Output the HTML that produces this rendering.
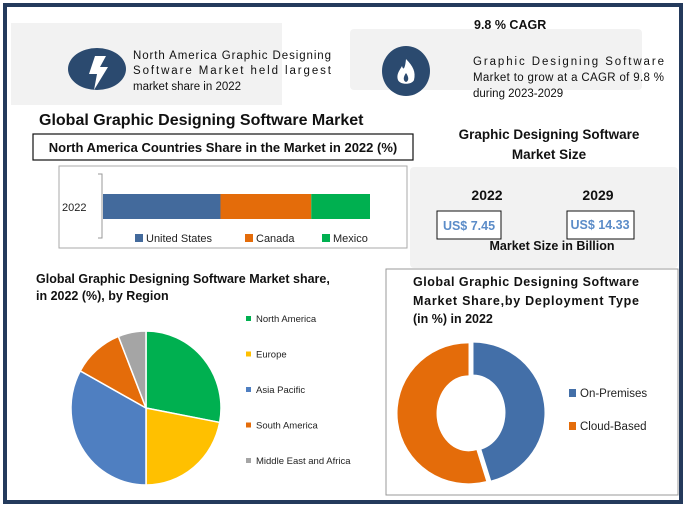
<!DOCTYPE html>
<html><head><meta charset="utf-8"><style>
body{margin:0;background:#fff;}
svg{display:block;font-family:"Liberation Sans",sans-serif;}
</style></head><body>
<svg width="686" height="507" viewBox="0 0 686 507">
<rect x="5" y="5" width="676" height="497" fill="#fff" stroke="#243a5c" stroke-width="4"/>

<!-- Top-left card -->
<rect x="11" y="23" width="271" height="82" fill="#f2f2f2"/>
<ellipse cx="97" cy="69" rx="29" ry="21" fill="#2b4a6f"/>
<path d="M95 56 L106 56 L100 67 L108 67 L94 90 L97 74 L89 74 Z" fill="#fff"/>
<g font-size="11.5" fill="#111">
<text x="133" y="59" textLength="198" lengthAdjust="spacing">North America Graphic Designing</text>
<text x="133" y="74" textLength="198" lengthAdjust="spacing">Software Market held largest</text>
<text x="133" y="90">market share in 2022</text>
</g>

<!-- Top-right card -->
<rect x="350" y="29" width="292" height="61" rx="4" fill="#f2f2f2"/>
<ellipse cx="406" cy="71" rx="24" ry="25" fill="#2b4a6f"/>
<path d="M406 59 C413 66 416 72 414 80 C412 85 400 85 398 80 C396 74 400 70 402 66 C403 70 405 70 406 59 Z" fill="#fff"/>
<path d="M406 73 C409 77 409 81 406 82 C403 81 403 77 406 73 Z" fill="#2b4a6f"/>
<text x="474" y="29" font-size="12.5" font-weight="bold" fill="#111">9.8 % CAGR</text>
<g font-size="11.5" fill="#111">
<text x="473" y="65" textLength="191" lengthAdjust="spacing">Graphic Designing Software</text>
<text x="473" y="81" textLength="191" lengthAdjust="spacing">Market to grow at a CAGR of 9.8 %</text>
<text x="473" y="97">during 2023-2029</text>
</g>

<text x="39" y="125" font-size="16" font-weight="bold" fill="#111">Global Graphic Designing Software Market</text>

<!-- Bar chart -->
<rect x="33" y="134" width="380" height="26" fill="#fff" stroke="#111" stroke-width="1.2"/>
<text x="223" y="152" font-size="13" font-weight="bold" fill="#111" text-anchor="middle">North America Countries Share in the Market in 2022 (%)</text>
<rect x="59" y="166" width="348" height="82" fill="#fff" stroke="#aaa"/>
<path d="M98 174 L102 174 L102 238 L98 238" fill="none" stroke="#999"/>
<text x="62" y="211" font-size="11" fill="#222">2022</text>
<g id="bars"></g>
<g id="barlegend"></g>

<!-- Market size -->
<text x="549" y="139" font-size="13.5" font-weight="bold" fill="#111" text-anchor="middle">Graphic Designing Software</text>
<text x="549" y="159" font-size="13.5" font-weight="bold" fill="#111" text-anchor="middle">Market Size</text>
<rect x="410" y="167" width="268" height="101" rx="4" fill="#f2f2f2"/>
<text x="487" y="200" font-size="14" font-weight="bold" fill="#111" text-anchor="middle">2022</text>
<text x="598" y="200" font-size="14" font-weight="bold" fill="#111" text-anchor="middle">2029</text>
<rect x="437" y="211" width="64" height="28" fill="#fff" stroke="#111"/>
<rect x="567" y="211" width="67" height="28" fill="#fff" stroke="#111"/>
<text x="469" y="230" font-size="12.5" font-weight="bold" fill="#5b8cc8" text-anchor="middle">US$ 7.45</text>
<text x="600" y="229" font-size="12.5" font-weight="bold" fill="#5b8cc8" text-anchor="middle">US$ 14.33</text>
<text x="552" y="250" font-size="12.5" font-weight="bold" fill="#111" text-anchor="middle">Market Size in Billion</text>

<!-- Pie -->
<text x="36" y="283" font-size="12.5" font-weight="bold" fill="#111">Global Graphic Designing Software Market share,</text>
<text x="36" y="300" font-size="12.5" font-weight="bold" fill="#111">in 2022 (%), by Region</text>
<g id="pie"></g>
<g id="pielegend" font-size="9.5" fill="#222"></g>

<!-- Donut -->
<rect x="386" y="269" width="292" height="226" fill="#fff" stroke="#999"/>
<g font-size="12.5" font-weight="bold" fill="#111">
<text x="413" y="286" textLength="226" lengthAdjust="spacing">Global Graphic Designing Software</text>
<text x="413" y="305" textLength="226" lengthAdjust="spacing">Market Share,by Deployment Type</text>
<text x="413" y="323">(in %) in 2022</text>
</g>
<g id="donut"></g>
<g id="donutlegend" font-size="11.5" fill="#222"></g>
</svg>
<script>
const barCategories=["United States","Canada","Mexico"];
const barValues=[44,34,22];
const barColors=["#436a9c","#e46c0a","#00b050"];
const pieCategories=["North America","Europe","Asia Pacific","South America","Middle East and Africa"];
const pieValues=[28,22,33,11,6];
const pieColors=["#00b050","#ffc000","#4f7fc1","#e46c0a","#a5a5a5"];
const donutCategories=["On-Premises","Cloud-Based"];
const donutValues=[46,54];
const donutColors=["#436fa8","#e46c0a"];
const NS="http://www.w3.org/2000/svg";
function mk(t,a,p){const e=document.createElementNS(NS,t);for(const k in a)e.setAttribute(k,a[k]);p.appendChild(e);return e;}
// bars
const bx0=103,bw=267,bt=194,bh=25;
const btot=barValues.reduce((a,b)=>a+b,0);
const xs=v=>v/btot*bw;
let acc=0;
const bars=document.getElementById('bars'),bl=document.getElementById('barlegend');
const legX=[135,245,322];
barValues.forEach((v,i)=>{
 const r=mk('rect',{x:bx0+xs(acc),y:bt,width:xs(v),height:bh,fill:barColors[i]},bars);
 
 
 acc+=v;
 const s=mk('rect',{x:legX[i],y:234,width:8,height:8,fill:barColors[i]},bl);
 
 
 const t=mk('text',{x:legX[i]+11,y:242,'font-size':11,fill:'#222'},bl);t.textContent=barCategories[i];
 
 
});
// pie
function slices(g,vals,cols,cats,cx,cy,rx,ry,irx,iry,explode,prefix){
 const tot=vals.reduce((a,b)=>a+b,0);let a0=0;
 vals.forEach((v,i)=>{
  const a1=a0+v/tot*2*Math.PI,mid=(a0+a1)/2;
  const ox=Math.sin(mid)*explode,oy=-Math.cos(mid)*explode;
  const P=(a,rx_,ry_)=>[cx+ox+Math.sin(a)*rx_,cy+oy-Math.cos(a)*ry_];
  const lg=(a1-a0)>Math.PI?1:0;
  const [x0,y0]=P(a0,rx,ry),[x1,y1]=P(a1,rx,ry);
  let d;
  if(irx>0){const [x2,y2]=P(a1,irx,iry),[x3,y3]=P(a0,irx,iry);
   d=`M${x0} ${y0} A${rx} ${ry} 0 ${lg} 1 ${x1} ${y1} L${x2} ${y2} A${irx} ${iry} 0 ${lg} 0 ${x3} ${y3} Z`;}
  else d=`M${cx} ${cy} L${x0} ${y0} A${rx} ${ry} 0 ${lg} 1 ${x1} ${y1} Z`;
  const p=mk('path',{d,fill:cols[i],stroke:'#fff','stroke-width':irx>0?0:1.5},g);
  
  
  a0=a1;
 });
}
slices(document.getElementById('pie'),pieValues,pieColors,pieCategories,146,408,75,77,0,0,0,'slice');
const pl=document.getElementById('pielegend');
pieCategories.forEach((c,i)=>{
 const y=322+i*35.5;
 const s=mk('rect',{x:246,y:y-6,width:5,height:5,fill:pieColors[i]},pl);
 
 
 const t=mk('text',{x:256,y:y},pl);t.textContent=c;
 
 
});
slices(document.getElementById('donut'),donutValues,donutColors,donutCategories,471,413,71,70,32,38,2.5,'donut');
const dl=document.getElementById('donutlegend');
donutCategories.forEach((c,i)=>{
 const y=397+i*33;
 const s=mk('rect',{x:569,y:y-8,width:7,height:8,fill:donutColors[i]},dl);
 
 
 const t=mk('text',{x:580,y:y},dl);t.textContent=c;
 
 
});
</script>
</body></html>
